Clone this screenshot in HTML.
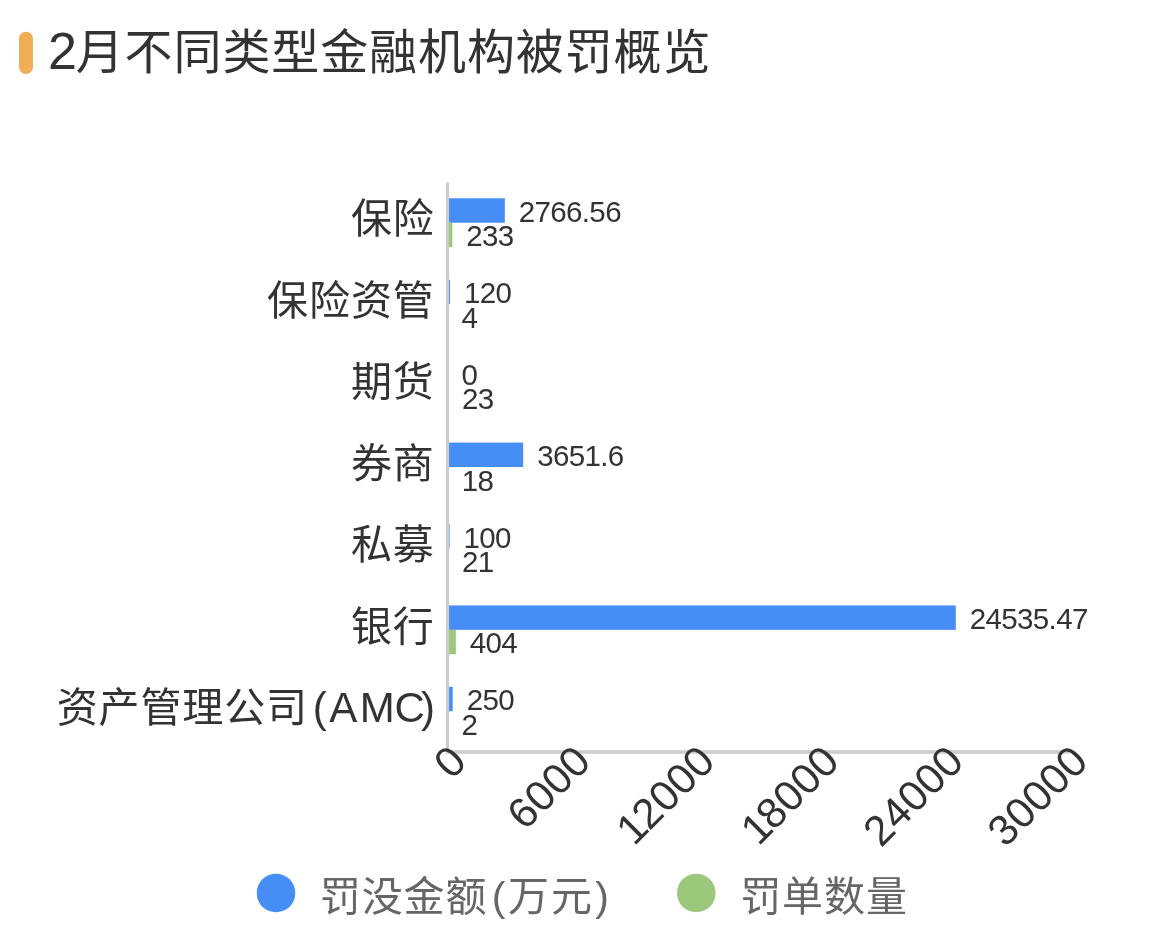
<!DOCTYPE html>
<html lang="zh-CN">
<head>
<meta charset="utf-8">
<title>2月不同类型金融机构被罚概览</title>
<style>
html,body{margin:0;padding:0;background:#fff;}
body{width:1155px;height:941px;overflow:hidden;}
svg{display:block;}
text{font-family:"Liberation Sans", "Noto Sans CJK SC", sans-serif;}
.title{font-size:48px;fill:#333;}
.cat{font-size:41px;fill:#333;text-anchor:end;letter-spacing:0.9px;}
.dl{font-size:29.5px;fill:#333;letter-spacing:-0.65px;}
.xl{font-size:42.5px;fill:#333;text-anchor:end;letter-spacing:0.4px;}
.lg{font-size:41px;fill:#666;letter-spacing:0.9px;}
</style>
</head>
<body>
<svg width="1155" height="941" viewBox="0 0 1155 941">
<rect x="0" y="0" width="1155" height="941" fill="#ffffff"/>
<rect x="19" y="31.8" width="14" height="42.2" rx="7" ry="7" fill="#f2ae54"/>
<text class="title" x="47.9" y="69" style="letter-spacing:0.9px"><tspan style="font-size:52px">2</tspan><tspan dx="-2">月不同类型金融机构被罚概览</tspan></text>
<rect x="447.50" y="198.29" width="57.31" height="24.43" fill="#468ef6"/>
<rect x="447.50" y="222.71" width="4.83" height="24.43" fill="#9cc87c"/>
<text class="cat" x="434.7" y="233.41">保险</text>
<text class="dl" x="518.81" y="221.90">2766.56</text>
<text class="dl" x="466.33" y="246.33">233</text>
<rect x="447.50" y="279.71" width="2.49" height="24.43" fill="#468ef6"/>
<rect x="447.50" y="304.14" width="0.08" height="24.43" fill="#9cc87c"/>
<text class="cat" x="434.7" y="314.84">保险资管</text>
<text class="dl" x="463.99" y="303.33">120</text>
<text class="dl" x="461.58" y="327.76">4</text>
<rect x="447.50" y="385.57" width="0.48" height="24.43" fill="#9cc87c"/>
<text class="cat" x="434.7" y="396.27">期货</text>
<text class="dl" x="461.50" y="384.76">0</text>
<text class="dl" x="461.98" y="409.19">23</text>
<rect x="447.50" y="442.57" width="75.65" height="24.43" fill="#468ef6"/>
<rect x="447.50" y="467.00" width="0.37" height="24.43" fill="#9cc87c"/>
<text class="cat" x="434.7" y="477.70">券商</text>
<text class="dl" x="537.15" y="466.19">3651.6</text>
<text class="dl" x="461.87" y="490.61">18</text>
<rect x="447.50" y="524.00" width="2.07" height="24.43" fill="#468ef6"/>
<rect x="447.50" y="548.43" width="0.44" height="24.43" fill="#9cc87c"/>
<text class="cat" x="434.7" y="559.13">私募</text>
<text class="dl" x="463.57" y="547.61">100</text>
<text class="dl" x="461.94" y="572.04">21</text>
<rect x="447.50" y="605.43" width="508.30" height="24.43" fill="#468ef6"/>
<rect x="447.50" y="629.86" width="8.37" height="24.43" fill="#9cc87c"/>
<text class="cat" x="434.7" y="640.56">银行</text>
<text class="dl" x="969.80" y="629.04">24535.47</text>
<text class="dl" x="469.87" y="653.47">404</text>
<rect x="447.50" y="686.86" width="5.18" height="24.43" fill="#468ef6"/>
<rect x="447.50" y="711.29" width="0.04" height="24.43" fill="#9cc87c"/>
<text class="cat" x="435.1" y="721.99">资产管理公司<tspan style="letter-spacing:0;font-size:42px" dx="4.6 2.7 2.4 -0.2 -3.8">(AMC)</tspan></text>
<text class="dl" x="466.68" y="710.47">250</text>
<text class="dl" x="461.54" y="734.90">2</text>
<rect x="446" y="182.40" width="3.1" height="571.40" fill="#cccccc"/>
<rect x="446" y="750.20" width="623.01" height="3.6" fill="#cccccc"/>
<text class="xl" transform="translate(468.70 763.60) rotate(-45)" x="0" y="0">0</text>
<text class="xl" transform="translate(593.00 763.60) rotate(-45)" x="0" y="0">6000</text>
<text class="xl" transform="translate(717.30 763.60) rotate(-45)" x="0" y="0">1<tspan dx="-2.5">2000</tspan></text>
<text class="xl" transform="translate(841.61 763.60) rotate(-45)" x="0" y="0">1<tspan dx="-2.5">8000</tspan></text>
<text class="xl" transform="translate(965.91 763.60) rotate(-45)" x="0" y="0">24000</text>
<text class="xl" transform="translate(1090.21 763.60) rotate(-45)" x="0" y="0">30000</text>
<circle cx="276" cy="893" r="19.3" fill="#468ef6"/>
<text class="lg" x="319.8" y="910.6">罚没金额<tspan dx="4.3 1.7 1 2.4">(万元)</tspan></text>
<circle cx="696.3" cy="893" r="19.3" fill="#9cc87c"/>
<text class="lg" x="740.2" y="910.6">罚单数量</text>
</svg>
</body>
</html>
